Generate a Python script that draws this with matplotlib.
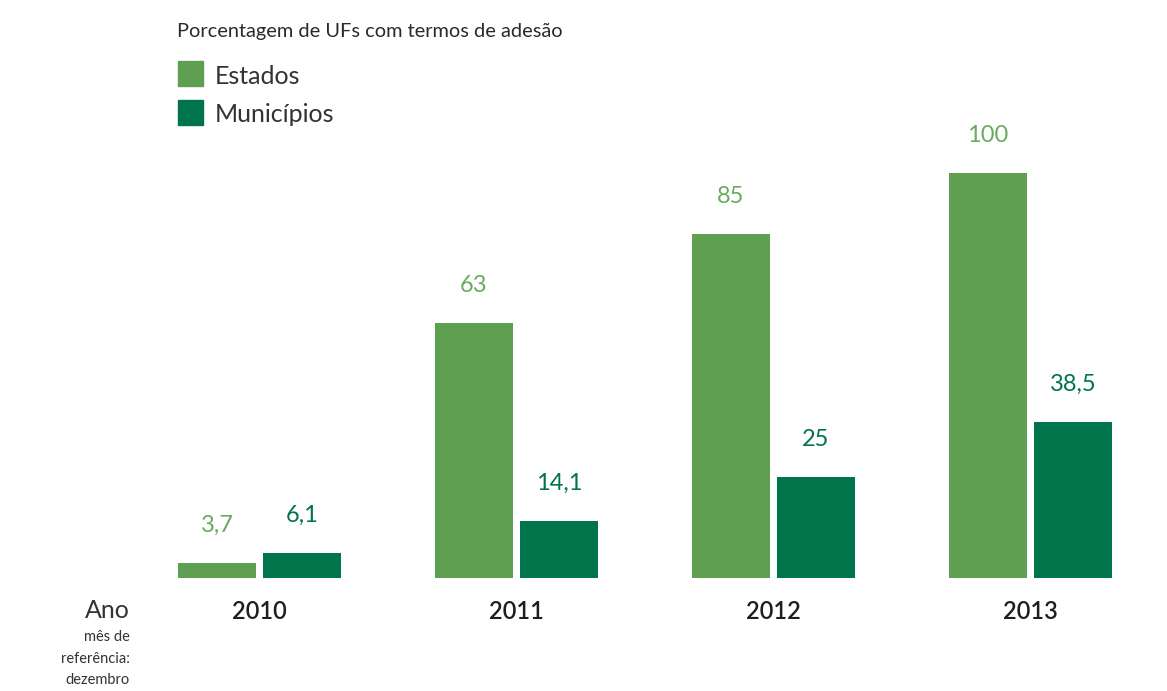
import matplotlib.pyplot as plt
from matplotlib.patches import Rectangle

plt.rcParams['font.family'] = ['Lato', 'DejaVu Sans']

# data
anos = ['2010', '2011', '2012', '2013']
estados = [3.7, 63, 85, 100]
municipios = [6.1, 14.1, 25, 38.5]
lbl_estados = ['3,7', '63', '85', '100']
lbl_municipios = ['6,1', '14,1', '25', '38,5']

c_est = '#5f9f52'
c_est_txt = '#6aaa5f'
c_mun = '#00744a'
c_txt = '#333333'

W, H = 1167, 691
fig = plt.figure(figsize=(W / 100, H / 100), dpi=100)

def fx(x):
    return x / W

def fy(y):
    return 1 - y / H

# axes covering whole figure; group spacing 257px, baseline at y=578px
ax = fig.add_axes([0, 0, 1, 1])
ax.set_xlim(-259.5 / 257, (W - 259.5) / 257)
ax.set_ylim(-(H - 578) / 4.05, 578 / 4.05)
ax.axis('off')

w = 78 / 257
off = 42.5 / 257
xs = list(range(len(anos)))

ax.bar([x - off for x in xs], estados, width=w, color=c_est)
ax.bar([x + off for x in xs], municipios, width=w, color=c_mun)

for x, v, t in zip(xs, estados, lbl_estados):
    ax.annotate(t, (x - off, v), xytext=(0, 27), textcoords='offset points',
                ha='center', va='center', fontsize=17, color=c_est_txt)
for x, v, t in zip(xs, municipios, lbl_municipios):
    ax.annotate(t, (x + off, v), xytext=(0, 27), textcoords='offset points',
                ha='center', va='center', fontsize=17, color=c_mun)

for x, a in zip(xs, anos):
    ax.annotate(a, (x, 0), xytext=(0, -24), textcoords='offset points',
                ha='center', va='center', fontsize=17, color='#1e1e1e', fontweight='semibold')

# left labels
fig.text(fx(130), fy(611), 'Ano', ha='right', va='center', fontsize=18, color=c_txt)
for yy, t in zip([637, 659, 680], ['mês de', 'referência:', 'dezembro']):
    fig.text(fx(130), fy(yy), t, ha='right', va='center', fontsize=10.5, color=c_txt)

# title and legend
fig.text(fx(177), fy(31), 'Porcentagem de UFs com termos de adesão', ha='left',
         va='center', fontsize=14.4, color='#2a2a2a')
for y0, col, t in [(61, c_est, 'Estados'), (100, c_mun, 'Municípios')]:
    fig.patches.append(Rectangle((fx(178), fy(y0 + 25)), fx(25), 25 / H,
                                 color=col, transform=fig.transFigure))
    fig.text(fx(215), fy(y0 + 15), t, ha='left', va='center', fontsize=18, color=c_txt)

fig.savefig('out.png', dpi=100, facecolor='white')
